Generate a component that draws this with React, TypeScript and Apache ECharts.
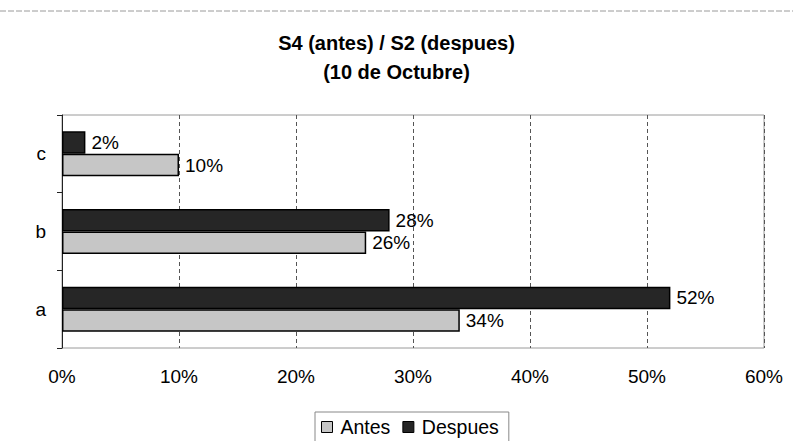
import React, { useEffect, useRef } from "react";
import * as echarts from "echarts";

const categories = ["a", "b", "c"];
const antes = [34, 26, 10];
const despues = [52, 28, 2];
const seriesNames = ["Antes", "Despues"];
const titleText = "S4 (antes) / S2 (despues)\n(10 de Octubre)";

export default function App() {
  const ref = useRef<HTMLDivElement>(null);
  useEffect(() => {
    document.body.style.margin = "0";
    const chart = echarts.init(ref.current!, null, { renderer: "svg" });
    const font = "Liberation Sans, Arial, sans-serif";
    const label = {
      show: true,
      position: "right",
      distance: 6,
      formatter: "{c}%",
      color: "#000",
      fontSize: 19,
      fontFamily: font,
    };
    chart.setOption({
      animation: false,
      backgroundColor: "#fff",
      title: {
        text: titleText,
        left: "center",
        top: 23,
        textStyle: {
          fontSize: 20,
          fontWeight: "bold",
          fontFamily: font,
          color: "#000",
          lineHeight: 29,
        },
      },
      graphic: [
        {
          type: "line",
          shape: { x1: 0, y1: 11, x2: 793, y2: 11 },
          style: { stroke: "#9a9a9a", lineWidth: 1, lineDash: [6, 2] },
        },
      ],
      legend: {
        data: seriesNames,
        top: 412,
        left: 315,
        icon: "rect",
        itemWidth: 11,
        itemHeight: 11,
        itemGap: 12,
        itemStyle: { borderColor: "#000", borderWidth: 1 },
        borderColor: "#888",
        borderWidth: 1,
        padding: [5, 10, 6, 6],
        textStyle: { fontSize: 19.5, fontFamily: font, color: "#000", padding: [0, 0, 0, 3] },
      },
      grid: {
        left: 62,
        right: 29,
        top: 115,
        bottom: 93,
        show: true,
        borderColor: "#9a9a9a",
        borderWidth: 1,
        containLabel: false,
      },
      xAxis: {
        type: "value",
        min: 0,
        max: 60,
        interval: 10,
        axisLine: { show: false },
        axisTick: { show: false },
        axisLabel: {
          formatter: "{value}%",
          fontSize: 19,
          fontFamily: font,
          color: "#000",
          margin: 19,
        },
        splitLine: { show: true, lineStyle: { color: "#555", type: [4, 3], width: 1 } },
      },
      yAxis: {
        type: "category",
        data: categories,
        axisLine: { show: true, lineStyle: { color: "#222", width: 1 } },
        axisTick: { show: true, length: 5, lineStyle: { color: "#222" } },
        axisLabel: { fontSize: 19, fontFamily: font, color: "#000", margin: 16 },
      },
      series: [
        {
          name: seriesNames[1],
          type: "bar",
          data: despues,
          barGap: "0%",
          barCategoryGap: "42%",
          itemStyle: { color: "#262626", borderColor: "#000", borderWidth: 1.5 },
          label,
        },
        {
          name: seriesNames[0],
          type: "bar",
          data: antes,
          barGap: "0%",
          barCategoryGap: "42%",
          itemStyle: { color: "#c6c6c6", borderColor: "#000", borderWidth: 1.5 },
          label,
        },
      ],
    });
    return () => chart.dispose();
  }, []);
  return <div ref={ref} style={{ width: 793, height: 441 }} />;
}
